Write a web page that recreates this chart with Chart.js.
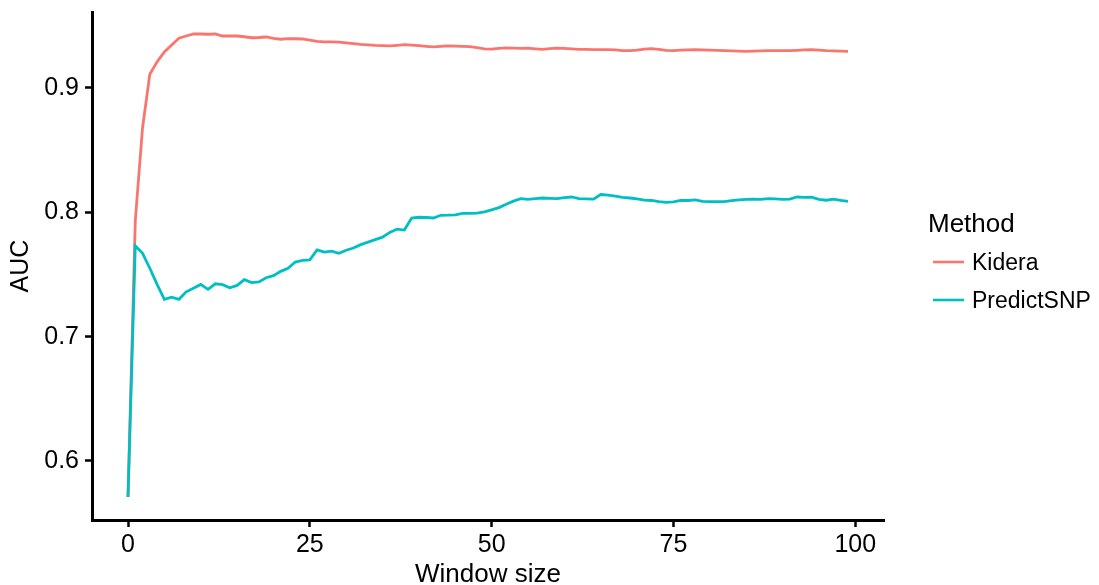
<!DOCTYPE html>
<html>
<head>
<meta charset="utf-8">
<script src="https://cdn.jsdelivr.net/npm/chart.js@4/dist/chart.umd.min.js"></script>
<style>
html,body{margin:0;padding:0;background:#fff;}
canvas{display:block;}
</style>
</head>
<body>
<canvas id="c" width="1099" height="585"></canvas>
<script>
const windowSizes = Array.from({length: 100}, (_, i) => i);

const kidera = [
0.571,0.793,0.868,0.911,0.921,0.929,0.9345,0.940,0.9418,0.9434,
0.9434,0.9432,0.9434,0.9418,0.9418,0.9418,0.9412,0.9404,0.9406,0.941,
0.9398,0.9392,0.9397,0.9396,0.9394,0.9385,0.9374,0.9371,0.937,0.9368,
0.9362,0.9356,0.935,0.9346,0.9342,0.934,0.9338,0.9343,0.9348,0.9345,
0.934,0.9335,0.933,0.9335,0.9338,0.9337,0.9335,0.9332,0.9325,0.9315,
0.9312,0.9318,0.9322,0.932,0.9319,0.932,0.9315,0.9311,0.9316,0.932,
0.9318,0.9314,0.9311,0.931,0.9308,0.9308,0.9308,0.9306,0.9301,0.930,
0.9305,0.9312,0.9316,0.931,0.9303,0.930,0.9304,0.9307,0.9308,0.9307,
0.9305,0.9303,0.9301,0.9299,0.9297,0.9295,0.9296,0.9298,0.930,0.930,
0.930,0.930,0.9303,0.9307,0.9308,0.9304,0.930,0.9298,0.9296,0.9295
];

const predictSNP = [
0.571,0.773,0.767,0.755,0.742,0.730,0.7317,0.730,0.736,0.739,
0.742,0.738,0.7425,0.7418,0.7393,0.7412,0.7458,0.7434,0.744,0.7474,
0.749,0.7525,0.755,0.760,0.7614,0.7617,0.7697,0.768,0.7688,0.767,
0.7695,0.7713,0.774,0.776,0.778,0.780,0.7838,0.7865,0.7857,0.7954,
0.796,0.7958,0.7954,0.7976,0.7977,0.798,0.7992,0.7992,0.7993,0.8003,
0.802,0.8038,0.8065,0.809,0.811,0.8104,0.811,0.8115,0.8112,0.811,
0.8118,0.8123,0.811,0.8108,0.8106,0.8143,0.8138,0.813,0.812,0.8115,
0.8108,0.8098,0.8095,0.8085,0.808,0.8083,0.8095,0.8095,0.810,0.8087,
0.8085,0.8085,0.8085,0.8093,0.810,0.8104,0.8106,0.8104,0.811,0.8108,
0.8104,0.8106,0.8123,0.812,0.8121,0.8104,0.8097,0.8106,0.8095,0.8088
];

const xTicks = [0, 25, 50, 75, 100];
const yTicks = [0.6, 0.7, 0.8, 0.9];
const seriesNames = ['Kidera', 'PredictSNP'];
const seriesColors = ['#F8766D', '#00BFC4'];
const legendTitle = 'Method';
const xTitle = 'Window size';
const yTitle = 'AUC';

const FONT = '"Liberation Sans", Arial, Helvetica, sans-serif';

const legendPlugin = {
  id: 'ggLegend',
  afterDraw(chart) {
    const ctx = chart.ctx;
    ctx.save();
    ctx.fillStyle = '#000';
    ctx.textAlign = 'left';
    ctx.textBaseline = 'alphabetic';
    ctx.font = '26px ' + FONT;
    ctx.fillText(legendTitle, 928, 232);
    const rows = [262, 300];
    ctx.font = '23px ' + FONT;
    seriesNames.forEach((name, i) => {
      ctx.strokeStyle = seriesColors[i];
      ctx.lineWidth = 2.6;
      ctx.beginPath();
      ctx.moveTo(933, rows[i]);
      ctx.lineTo(964, rows[i]);
      ctx.stroke();
      ctx.fillStyle = '#000';
      ctx.fillText(name, 972, rows[i] + 8.3);
    });
    ctx.restore();
  }
};

const data = {
  labels: windowSizes,
  datasets: [
    { label: seriesNames[0], order: 1, data: windowSizes.map((x, i) => ({x, y: kidera[i]})),
      borderColor: seriesColors[0], backgroundColor: seriesColors[0] },
    { label: seriesNames[1], order: 0, data: windowSizes.map((x, i) => ({x, y: predictSNP[i]})),
      borderColor: seriesColors[1], backgroundColor: seriesColors[1] }
  ]
};

new Chart(document.getElementById('c'), {
  type: 'line',
  data,
  plugins: [legendPlugin],
  options: {
    responsive: false,
    animation: false,
    devicePixelRatio: 1,
    layout: { padding: { left: 0, top: 12, right: 215, bottom: 0 } },
    elements: {
      line: { borderWidth: 2.8, tension: 0 },
      point: { radius: 0, hoverRadius: 0 }
    },
    plugins: { legend: { display: false }, tooltip: { enabled: false } },
    scales: {
      x: {
        type: 'linear',
        min: -4.95, max: 103.95,
        afterBuildTicks: s => { s.ticks = xTicks.map(v => ({value: v})); },
        afterFit: s => { s.height = 65; s.paddingLeft = 0; s.paddingRight = 0; },
        grid: { display: true, drawOnChartArea: false, drawTicks: true, tickLength: 7, tickWidth: 2.5, tickColor: '#000', color: '#000' },
        border: { display: true, color: '#000', width: 3 },
        ticks: { color: '#000', font: { family: FONT, size: 25 }, padding: 3, maxRotation: 0, autoSkip: false },
        title: { display: true, text: xTitle, color: '#000', font: { family: FONT, size: 26, lineHeight: 0.8 }, padding: { top: 0, bottom: 0 } }
      },
      y: {
        type: 'linear',
        min: 0.5525, max: 0.9611,
        afterBuildTicks: s => { s.ticks = yTicks.map(v => ({value: v})); },
        afterFit: s => { s.width = 92; s.paddingTop = 0; s.paddingBottom = 0; },
        grid: { display: true, drawOnChartArea: false, drawTicks: true, tickLength: 7, tickWidth: 2.5, tickColor: '#000', color: '#000' },
        border: { display: true, color: '#000', width: 3 },
        ticks: { color: '#000', font: { family: FONT, size: 25 }, padding: 6, autoSkip: false, callback: v => v.toFixed(1) },
        title: { display: true, text: yTitle, color: '#000', font: { family: FONT, size: 25 }, padding: { top: 6, bottom: 0 } }
      }
    }
  }
});
</script>
</body>
</html>
